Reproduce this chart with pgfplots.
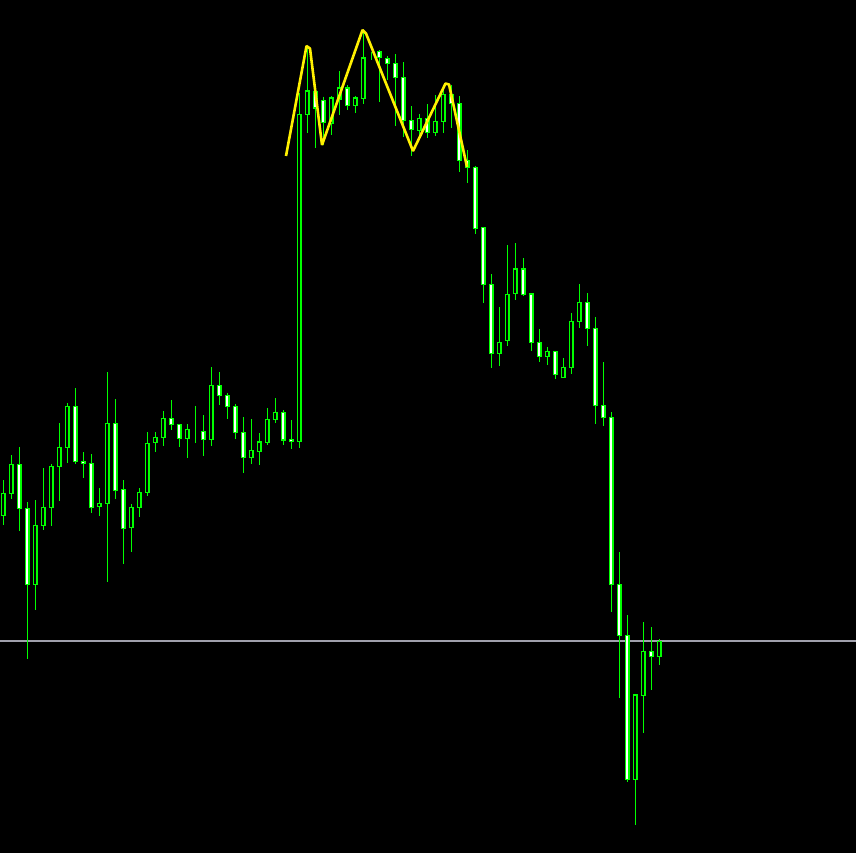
\documentclass[border=0pt]{standalone}
\usepackage{pgfplots}
\pgfplotsset{compat=1.18}
\usepackage{pgfplotstable}
\definecolor{cgreen}{RGB}{0,255,0}
\definecolor{cyellow}{RGB}{255,240,0}
\definecolor{cgray}{RGB}{160,160,172}
% candle values in chart pixel units (y grows downward): open high low close
\pgfplotstableread{
i o h l c
0 515.7 480 524.7 493.3
1 493.3 455 498.7 464.3
2 464.3 447 530.7 508.7
3 508.7 502 658.7 584.3
4 584.3 500 609.7 525.3
5 525.7 468 529.7 507.3
6 507.7 464 525.7 466.3
7 466.7 423 500.7 447.3
8 447.7 403 462.7 406.3
9 406.3 388 464.3 461.7
10 461.3 452 477.7 463.3
11 463.3 454 512.7 507.3
12 506.7 488 515.7 503.3
13 503.7 372 581.7 423.3
14 423.3 399 498.7 490.3
15 489.3 480 563.7 528.7
16 527.7 504 551.7 507.3
17 507.7 488 516.7 492.3
18 492.7 432 495.7 443.3
19 442.3 432 451.7 437.3
20 437.7 411 446 418.3
21 418.3 400 430 424.7
22 424.3 424 446.7 438.7
23 438.7 424 457.7 429.3
24 430.7 406 442.7 430.7
25 431.3 415 455.7 439.7
26 439.7 367 445.7 385.3
27 385.3 372 404.7 395.7
28 395.3 393.3 419 406.7
29 406.3 404 439 432.7
30 432.3 417 472.7 457.7
31 457.7 419 464 450.3
32 451.7 433 464.7 442
33 442.3 408 445 419.3
34 419.7 398 422.7 412.3
35 412.3 410 444.7 440
36 439.3 420 449 441.3
37 441.7 93 448 114.3
38 114.7 46 132.7 91
39 92 86 147.7 108
40 100.3 96.7 145 122.5
41 123.5 96 135 98
42 99 71 114.5 88
43 88 85 110 105.5
44 105.5 96 112.5 98
45 98.5 30 104 58
46 54.7 51.7 59.7 54.7
47 51.3 50 102.3 57.3
48 58.3 56 80 63.3
49 63.3 54.3 125.7 77.3
50 77.3 62.3 136.7 120.5
51 120.3 106.3 155.7 129.3
52 130.3 114.3 137.3 118.7
53 118.7 104.3 137.7 132.3
54 132.3 95 135.7 121.3
55 121.7 85 133.3 94.3
56 94.3 85 128.3 103.3
57 103.3 96 171.7 160.3
58 160.3 150 182.7 167.3
59 167.3 166 234 228.3
60 227.3 227.3 302.7 284.7
61 284.3 274.3 367.7 353.3
62 353.3 307 365.7 342.3
63 340.7 245 345.7 294.3
64 293.7 243 299.7 269
65 269 258 295.7 294.7
66 294 293.3 350.7 342.7
67 342.3 329 362 356.7
68 356.7 347 365 351.3
69 351.3 351 379 374.3
70 377.7 358 378 367.3
71 367.3 313 374 321.3
72 321.7 284 327.7 302.3
73 302.3 293 345.7 328.7
74 328.3 317 423.7 405.7
75 405.3 362 425.7 417.3
76 417.3 412 611.7 584.3
77 584.3 552 697.7 635.3
78 635.3 615 781.7 779.7
79 779.7 694 825 695
80 695.3 622 732.7 651.3
81 651.3 627 689.7 656.7
82 656.7 639 664.7 641.3
}\candles
\begin{document}
\begin{tikzpicture}
\fill[black] (0,0) rectangle (428pt,426.5pt);
\pgfplotsset{base/.style={at={(0,0)}, anchor=south west, scale only axis,
  width=428pt, height=426.5pt, xmin=0, xmax=856, ymin=0, ymax=853,
  y dir=reverse, hide axis, clip=true}}
\begin{axis}[base]
\addplot[cgray, line width=0.55pt] coordinates {(0,641) (856,641)};
\addplot[draw=none, mark=none,
  error bars/.cd, y dir=plus, y explicit, error mark=none,
  error bar style={draw=cgreen, solid, line width=0.65pt}]
  table[x expr=3.3+8*\thisrow{i}, y=h, y error expr=\thisrow{l}-\thisrow{h}] {\candles};
\end{axis}
\begin{axis}[base, ybar stacked, bar width=3.6]
\addplot[draw=none, fill=none] table[x expr=3.3+8*\thisrow{i}, y expr={min(\thisrow{o},\thisrow{c})}] {\candles};
\addplot[draw=cgreen, fill=black, line width=0.65pt] table[x expr=3.3+8*\thisrow{i}, y expr={max(\thisrow{o}-\thisrow{c},0)}] {\candles};
\addplot[draw=cgreen, fill=white, line width=0.65pt] table[x expr=3.3+8*\thisrow{i}, y expr={max(\thisrow{c}-\thisrow{o},0)}] {\candles};
\end{axis}
\begin{axis}[base]
\addplot[cyellow, line width=1.3pt, line join=bevel] coordinates {
(286,156) (306.5,46) (310,48.5) (322,145) (362.5,30) (366,33.5) (413,151) (445.5,83.5) (449,84.5) (467,167)};
\end{axis}
\end{tikzpicture}
\end{document}
